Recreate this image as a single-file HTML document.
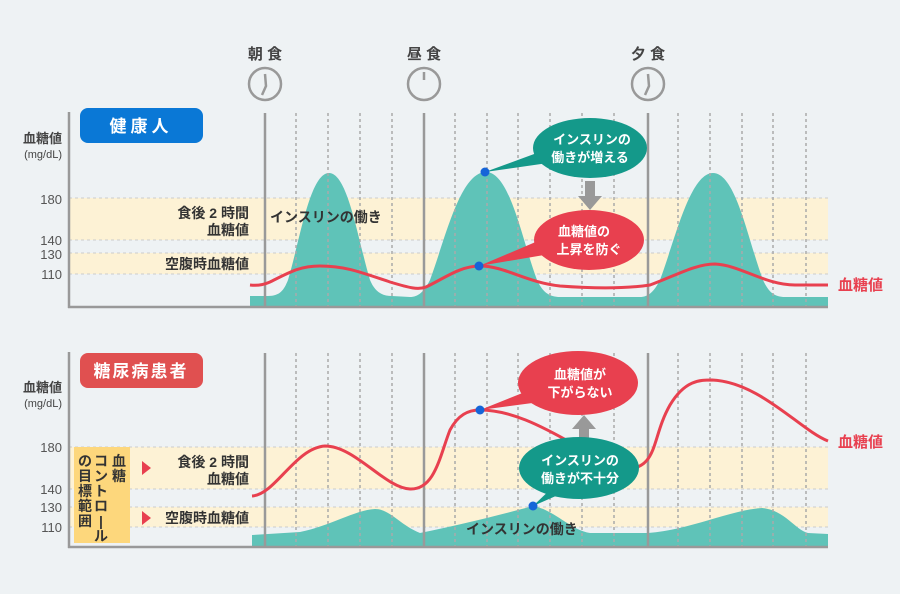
<!DOCTYPE html>
<html><head><meta charset="utf-8"><style>
body{margin:0;background:#eef2f4}
svg{display:block;font-family:"Liberation Sans","Noto Sans CJK JP",sans-serif;font-weight:bold}
.tk{font-weight:normal;font-size:13px;fill:#555}
</style></head><body>
<svg width="900" height="594" viewBox="0 0 900 594">
<rect width="900" height="594" fill="#eef2f4"/>
<g font-size="15" fill="#444" text-anchor="middle">
<text x="265" y="59">朝 食</text><text x="424" y="59">昼 食</text><text x="648" y="59">夕 食</text>
</g>
<g fill="none" stroke="#999" stroke-width="2.5">
<circle cx="265" cy="84" r="16"/><circle cx="424" cy="84" r="16"/><circle cx="648" cy="84" r="16"/>
<path d="M265 74 L266 86 L262 95"/><path d="M424 72 L424 80"/><path d="M648 74 L649 86 L645 95"/>
</g>

<!-- TOP CHART -->
<rect x="69" y="198" width="759" height="42" fill="#fdf2d5"/>
<rect x="69" y="253" width="759" height="21" fill="#fdf2d5"/>
<g stroke="#ccc" stroke-dasharray="3,3" stroke-width="1"><line x1="69" y1="198" x2="828" y2="198"/><line x1="69" y1="240" x2="828" y2="240"/><line x1="69" y1="253" x2="828" y2="253"/><line x1="69" y1="274" x2="828" y2="274"/></g>
<path d="M250 307 L250 296 L268 296 C280 296 284 290 288 280 C300 240 310 173 329 173 C348 173 358 240 370 280 C375 292 382 296 392 296 L410 297 C418 297 424 292 430 280 C445 240 460 172 486 172 C510 172 522 240 537 280 C543 293 550 297 560 297 L640 297 C648 297 654 292 660 280 C675 240 690 173 713 173 C736 173 748 240 763 280 C769 293 775 297 785 297 L828 297 L828 307 Z" fill="#5fc3b8"/>
<g stroke="#aaa" stroke-width="1.5" stroke-dasharray="3,3"><line x1="296" y1="113" x2="296" y2="307"/><line x1="328" y1="113" x2="328" y2="307"/><line x1="360" y1="113" x2="360" y2="307"/><line x1="392" y1="113" x2="392" y2="307"/><line x1="455" y1="113" x2="455" y2="307"/><line x1="487" y1="113" x2="487" y2="307"/><line x1="518" y1="113" x2="518" y2="307"/><line x1="550" y1="113" x2="550" y2="307"/><line x1="582" y1="113" x2="582" y2="307"/><line x1="614" y1="113" x2="614" y2="307"/><line x1="678" y1="113" x2="678" y2="307"/><line x1="710" y1="113" x2="710" y2="307"/><line x1="742" y1="113" x2="742" y2="307"/><line x1="773" y1="113" x2="773" y2="307"/><line x1="806" y1="113" x2="806" y2="307"/></g>
<g stroke="#999" stroke-width="2.5"><line x1="265" y1="113" x2="265" y2="307"/><line x1="424" y1="113" x2="424" y2="307"/><line x1="648" y1="113" x2="648" y2="307"/>
<line x1="69" y1="112" x2="69" y2="308"/><line x1="68" y1="307" x2="828" y2="307"/></g>
<path d="M250 285 C260 286 265 284 270 282 C290 272 300 266 320 266 C345 266 360 272 390 282 C410 288 418 290 426 287 C445 278 460 266 480 266 C505 266 525 282 560 286 C600 289 630 288 650 285 C675 276 695 264 715 264 C740 265 765 285 795 285 L828 285" fill="none" stroke="#e8404f" stroke-width="3"/>
<text x="838" y="290" font-size="15" fill="#e8404f">血糖値</text>
<g text-anchor="end"><text class="tk" x="62" y="204">180</text><text class="tk" x="62" y="245">140</text><text class="tk" x="62" y="259">130</text><text class="tk" x="62" y="279">110</text></g>
<text x="62" y="143" font-size="13" fill="#444" text-anchor="end">血糖値</text>
<text x="62" y="158" font-size="11" fill="#444" text-anchor="end" font-weight="normal">(mg/dL)</text>
<rect x="80" y="108" width="123" height="35" rx="8" fill="#0a78d6"/>
<text x="141" y="132" font-size="17" fill="#fff" text-anchor="middle" letter-spacing="4">健康人</text>
<g font-size="14" fill="#333" text-anchor="end"><text x="249" y="218">食後 2 時間</text><text x="249" y="235">血糖値</text><text x="249" y="269">空腹時血糖値</text></g>
<text x="270" y="222" font-size="14" fill="#333">インスリンの働き</text>
<path d="M485 172 L545 150 L555 162 Z" fill="#14998a"/>
<ellipse cx="590" cy="148" rx="57" ry="30" fill="#14998a"/>
<g font-size="13" fill="#fff" text-anchor="middle"><text x="592" y="144">インスリンの</text><text x="590" y="162">働きが増える</text></g>
<path d="M585 181 h10 v15 h7 l-12 14 l-12 -14 h7 Z" fill="#999"/>
<path d="M479 266 L545 238 L550 254 Z" fill="#e8404f"/>
<ellipse cx="589" cy="240" rx="55" ry="30" fill="#e8404f"/>
<g font-size="13" fill="#fff" text-anchor="middle"><text x="584" y="236">血糖値の</text><text x="589" y="254">上昇を防ぐ</text></g>
<circle cx="485" cy="172" r="4.5" fill="#1565d8"/><circle cx="479" cy="266" r="4.5" fill="#1565d8"/>

<!-- BOTTOM CHART -->
<rect x="69" y="447" width="759" height="42" fill="#fdf2d5"/>
<rect x="69" y="507" width="759" height="20" fill="#fdf2d5"/>
<g stroke="#ccc" stroke-dasharray="3,3" stroke-width="1"><line x1="69" y1="447" x2="828" y2="447"/><line x1="69" y1="489" x2="828" y2="489"/><line x1="69" y1="507" x2="828" y2="507"/><line x1="69" y1="527" x2="828" y2="527"/></g>
<path d="M252 547 L252 535 L300 532 C330 526 355 510 375 509 C390 509 400 525 420 533 C460 525 500 515 533 506 C555 510 570 530 590 533 L648 533 C690 530 730 510 762 508 C785 510 795 530 808 533 L828 534 L828 547 Z" fill="#5fc3b8"/>
<g stroke="#aaa" stroke-width="1.5" stroke-dasharray="3,3"><line x1="296" y1="353" x2="296" y2="547"/><line x1="328" y1="353" x2="328" y2="547"/><line x1="360" y1="353" x2="360" y2="547"/><line x1="392" y1="353" x2="392" y2="547"/><line x1="455" y1="353" x2="455" y2="547"/><line x1="487" y1="353" x2="487" y2="547"/><line x1="518" y1="353" x2="518" y2="547"/><line x1="550" y1="353" x2="550" y2="547"/><line x1="582" y1="353" x2="582" y2="547"/><line x1="614" y1="353" x2="614" y2="547"/><line x1="678" y1="353" x2="678" y2="547"/><line x1="710" y1="353" x2="710" y2="547"/><line x1="742" y1="353" x2="742" y2="547"/><line x1="773" y1="353" x2="773" y2="547"/><line x1="806" y1="353" x2="806" y2="547"/></g>
<g stroke="#999" stroke-width="2.5"><line x1="265" y1="353" x2="265" y2="547"/><line x1="424" y1="353" x2="424" y2="547"/><line x1="648" y1="353" x2="648" y2="547"/>
<line x1="69" y1="352" x2="69" y2="548"/><line x1="68" y1="547" x2="828" y2="547"/></g>
<path d="M252 496 C275 495 295 448 325 446 C355 446 385 488 410 489 C435 490 440 455 450 430 C458 415 468 410 480 410 C510 410 540 425 575 445 L620 470 C660 470 650 440 670 405 C685 380 700 380 712 380 C760 382 800 430 828 441" fill="none" stroke="#e8404f" stroke-width="3"/>
<text x="838" y="447" font-size="15" fill="#e8404f">血糖値</text>
<g text-anchor="end"><text class="tk" x="62" y="452">180</text><text class="tk" x="62" y="494">140</text><text class="tk" x="62" y="512">130</text><text class="tk" x="62" y="532">110</text></g>
<text x="62" y="392" font-size="13" fill="#444" text-anchor="end">血糖値</text>
<text x="62" y="407" font-size="11" fill="#444" text-anchor="end" font-weight="normal">(mg/dL)</text>
<rect x="80" y="353" width="123" height="35" rx="8" fill="#e05050"/>
<text x="141" y="377" font-size="17" fill="#fff" text-anchor="middle" letter-spacing="2">糖尿病患者</text>
<rect x="74" y="447" width="56" height="96" fill="#fdd77c"/>
<g font-size="14" fill="#333" text-anchor="middle">
<text x="119" y="466">血</text><text x="119" y="481">糖</text>
<text x="101" y="466">コ</text><text x="101" y="481">ン</text><text x="101" y="496">ト</text><text x="101" y="511">ロ</text><text x="101" y="526">|</text><text x="101" y="541">ル</text>
<text x="85" y="466">の</text><text x="85" y="481">目</text><text x="85" y="496">標</text><text x="85" y="511">範</text><text x="85" y="526">囲</text>
</g>
<path d="M142 461 L151 468 L142 475 Z" fill="#e8404f"/><path d="M142 511 L151 518 L142 525 Z" fill="#e8404f"/>
<g font-size="14" fill="#333" text-anchor="end"><text x="249" y="467">食後 2 時間</text><text x="249" y="484">血糖値</text><text x="249" y="523">空腹時血糖値</text></g>
<text x="466" y="534" font-size="14" fill="#333">インスリンの働き</text>
<path d="M480 410 L530 390 L540 402 Z" fill="#e8404f"/>
<ellipse cx="578" cy="383" rx="60" ry="32" fill="#e8404f"/>
<g font-size="13" fill="#fff" text-anchor="middle"><text x="580" y="379">血糖値が</text><text x="580" y="397">下がらない</text></g>
<path d="M579 441 h10 v-12 h7 l-12 -14 l-12 14 h7 Z" fill="#999"/>
<path d="M533 506 L555 485 L565 492 Z" fill="#14998a"/>
<ellipse cx="579" cy="468" rx="60" ry="31" fill="#14998a"/>
<g font-size="13" fill="#fff" text-anchor="middle"><text x="580" y="465">インスリンの</text><text x="580" y="483">働きが不十分</text></g>
<circle cx="480" cy="410" r="4.5" fill="#1565d8"/><circle cx="533" cy="506" r="4.5" fill="#1565d8"/>
</svg>
</body></html>
